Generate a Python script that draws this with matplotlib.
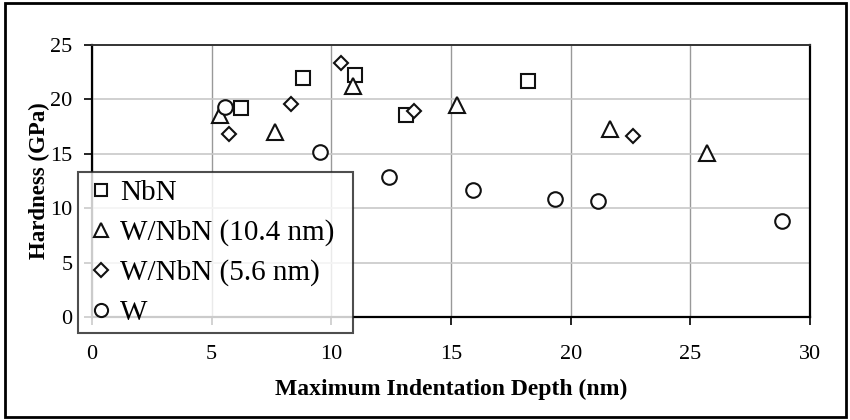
import matplotlib
matplotlib.use("Agg")
import matplotlib.pyplot as plt
from matplotlib.patches import Rectangle

plt.rcParams['font.family'] = ['Liberation Serif', 'DejaVu Serif']

# Datos
nbn_x = [6.23, 8.82, 11.0, 13.14, 18.23]
nbn_y = [19.2, 21.95, 22.2, 18.55, 21.7]

wnbn104_x = [5.33, 7.63, 10.9, 15.23, 21.64, 25.71]
wnbn104_y = [18.6, 17.0, 21.2, 19.5, 17.25, 15.05]

wnbn56_x = [5.73, 8.33, 10.42, 13.45, 22.62]
wnbn56_y = [16.8, 19.55, 23.35, 18.95, 16.65]

w_x = [5.54, 9.51, 12.41, 15.91, 19.33, 21.13, 28.83]
w_y = [19.3, 15.2, 12.9, 11.65, 10.8, 10.7, 8.8]

etiquetas = ['NbN', 'W/NbN (10.4 nm)', 'W/NbN (5.6 nm)', 'W']

fig = plt.figure(figsize=(8.5, 4.2), dpi=100)
ax = fig.add_axes([92 / 850, 1 - 317 / 420, (810 - 92) / 850, (317 - 45) / 420])

estilo = dict(linestyle='none', markerfacecolor='white', markeredgecolor='#111111', markeredgewidth=1.5)
ax.plot(nbn_x, nbn_y, marker='s', markersize=10, label=etiquetas[0], **estilo)
ax.plot(wnbn104_x, wnbn104_y, marker='^', markersize=11, label=etiquetas[1], **estilo)
ax.plot(wnbn56_x, wnbn56_y, marker='D', markersize=7.5, label=etiquetas[2], **estilo)
ax.plot(w_x, w_y, marker='o', markersize=10.5, label=etiquetas[3], **estilo)

ax.set_xlim(0, 30)
ax.set_ylim(0, 25)
ax.set_xticks(range(0, 31, 5))
ax.set_yticks(range(0, 26, 5))
ax.grid(axis='x', color='#999999', linewidth=1.0)
ax.grid(axis='y', color='#c8c8c8', linewidth=1.2)
ax.set_axisbelow(True)
for lado in ['left', 'bottom', 'right']:
    ax.spines[lado].set_linewidth(1.6)
    ax.spines[lado].set_color('black')
ax.spines['top'].set_linewidth(1.4)
ax.spines['top'].set_color('#333333')
ax.tick_params(direction='out', length=6, width=1.2, labelsize=16, pad=8)
ax.tick_params(axis='x', pad=14)

ax.set_xlabel('Maximum Indentation Depth (nm)', fontsize=17, fontweight='bold', labelpad=11)
ax.set_ylabel('Hardness (GPa)', fontsize=16.5, fontweight='bold', labelpad=0)

leg = ax.legend(loc='lower left', bbox_to_anchor=(78 / 850, 1 - 333 / 420, (353 - 78) / 850, (333 - 167) / 420),
                bbox_transform=fig.transFigure, mode='expand', fontsize=21, frameon=True, fancybox=False,
                edgecolor='#222222', handletextpad=0.1, handlelength=1.1, borderaxespad=0,
                labelspacing=0.45, borderpad=0.25, markerscale=0.9)
leg.get_frame().set_linewidth(1.5)
leg.set_zorder(5)

# Marco exterior de la figura
fig.patches.append(Rectangle((5 / 850, 3 / 420), 841 / 850, 414 / 420, transform=fig.transFigure,
                             fill=False, edgecolor='black', linewidth=2))

fig.savefig('out.png', dpi=100)
